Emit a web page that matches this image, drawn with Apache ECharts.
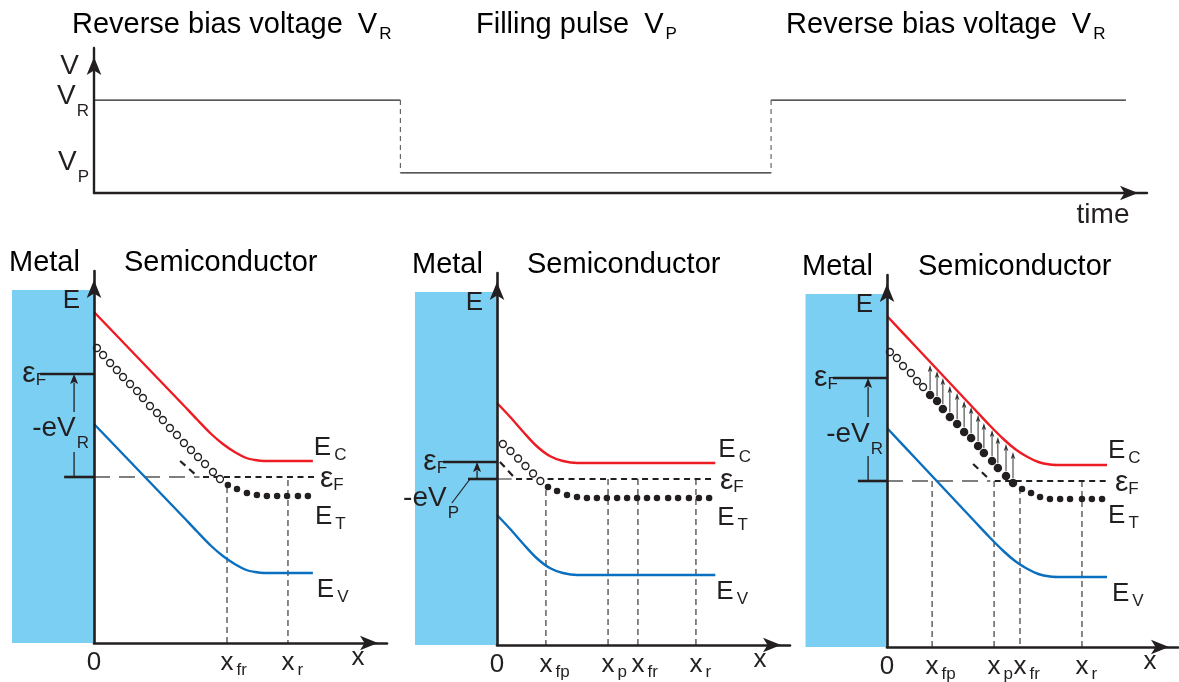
<!DOCTYPE html>
<html>
<head>
<meta charset="utf-8">
<title>Filling pulse sequence and Schottky band diagrams</title>
<script src="https://cdn.jsdelivr.net/npm/echarts@6.0.0/dist/echarts.min.js"></script>
<style>
  html, body { margin: 0; padding: 0; background: #ffffff; }
  #chart { width: 1179px; height: 682px; }
</style>
</head>
<body>
<div id="chart"></div>
<script>
// ---------------- bias sequence (time and voltage in arbitrary units) ----------------
const pulseTimes = [0, 2.91, 6.43, 9.80];   // start, pulse on, pulse off, end
const reverseBias = 3.0;                    // V_R
const fillBias = 0.65;                      // V_P

// ---------------- Schottky contact: position x (a.u.), energy vs. bulk Fermi level (eV) ----------------
const metalX = [-2.8, 0];
const metalE = [-1.66, 1.87];

// Panel 1: steady state under reverse bias
const bandX1 = [0, 1, 2, 3, 3.5, 4, 4.4, 4.8, 5.2, 5.5, 5.8, 7.47];
const ec1 = [1.65, 1.345, 1.04, 0.735, 0.58, 0.43, 0.33, 0.25, 0.19, 0.17, 0.16, 0.16];
const ev1 = [0.53, 0.225, -0.08, -0.385, -0.54, -0.69, -0.79, -0.87, -0.93, -0.95, -0.96, -0.96];
const emptyX1 = [0.10, 0.31, 0.55, 0.78, 0.99, 1.23, 1.47, 1.67, 1.91, 2.15, 2.35, 2.59, 2.83, 3.07, 3.31, 3.55, 3.79, 4.06, 4.30];
const emptyE1 = [1.29, 1.22, 1.14, 1.07, 1.00, 0.93, 0.86, 0.79, 0.71, 0.64, 0.57, 0.49, 0.42, 0.34, 0.27, 0.20, 0.13, 0.05, -0.02];
const filledX1 = [4.57, 4.88, 5.22, 5.56, 5.90, 6.25, 6.59, 6.96, 7.30];
const filledE1 = [-0.08, -0.12, -0.16, -0.18, -0.19, -0.19, -0.19, -0.19, -0.19];
const etTail1 = [2.94, 0.16, 3.48, 0.02];
const efGray1 = [0, 3.6];
const efBlack1 = [3.72, 7.54];
const guideX1 = [4.54, 6.62];
const guideTop1 = [-0.10, -0.03];
const tickVal1 = [0, 4.54, 6.62];
const tickLab1 = [['0', ''], ['x', 'fr'], ['x', 'r']];
const metalFermi1 = 1.03;
const metalFermiX1 = [-1.84, 0];
const bulkRefX1 = [-1.02, 0];
const biasArrow1 = [-0.68, 0.65, 1.03];
const biasTick1 = [-0.68, 0, 0.25];

// Panel 2: during the filling pulse
const bandX2 = [0, 0.45, 0.9, 1.35, 1.8, 2.25, 2.75, 3.3, 7.45];
const ec2 = [0.76, 0.62, 0.47, 0.33, 0.23, 0.18, 0.16, 0.16, 0.16];
const ev2 = [-0.36, -0.50, -0.65, -0.79, -0.89, -0.94, -0.96, -0.96, -0.96];
const emptyX2 = [0.20, 0.46, 0.72, 0.97, 1.23, 1.48];
const emptyE2 = [0.35, 0.28, 0.205, 0.13, 0.055, -0.02];
const filledX2 = [1.74, 2.05, 2.39, 2.73, 3.07, 3.41, 3.75, 4.10, 4.44, 4.78, 5.12, 5.46, 5.84, 6.18, 6.55, 6.89, 7.24];
const filledE2 = [-0.08, -0.12, -0.16, -0.18, -0.19, -0.19, -0.19, -0.19, -0.19, -0.19, -0.19, -0.19, -0.19, -0.19, -0.19, -0.19, -0.19];
const etTail2 = [0.10, 0.17, 0.61, 0.01];
const efGray2 = [0, 0.5];
const efBlack2 = [0.65, 7.44];
const guideX2 = [1.67, 3.79, 4.81, 6.79];
const guideTop2 = [-0.11, 0, 0, 0];
const tickVal2 = [0, 1.67, 3.79, 4.81, 6.79];
const tickLab2 = [['0', ''], ['x', 'fp'], ['x', 'p'], ['x', 'fr'], ['x', 'r']];
const metalFermi2 = 0.17;
const metalFermiX2 = [-1.84, 0];
const bulkRefX2 = [-0.99, 0];
const biasArrow2 = [-0.68, 0, 0.17];
const pointer2 = [-1.54, -0.24, -0.92, 0.0];

// Panel 3: back to reverse bias, filled traps emitting
const bandX3 = [0, 1, 2, 3, 3.5, 4, 4.4, 4.8, 5.2, 5.6, 6.0, 7.56];
const ec3 = [1.65, 1.34, 1.03, 0.72, 0.565, 0.42, 0.32, 0.245, 0.19, 0.165, 0.16, 0.16];
const ev3 = [0.53, 0.22, -0.09, -0.40, -0.555, -0.70, -0.80, -0.875, -0.93, -0.955, -0.96, -0.96];
const emptyX3 = [0.10, 0.34, 0.55, 0.82, 1.03, 1.24];
const emptyE3 = [1.29, 1.23, 1.15, 1.08, 1.00, 0.94];
const emitX3 = [1.48, 1.72, 1.92, 2.16, 2.41, 2.65, 2.89, 3.13, 3.33, 3.61, 3.81, 4.09, 4.33];
const emitE3 = [0.86, 0.80, 0.72, 0.64, 0.57, 0.49, 0.43, 0.35, 0.28, 0.20, 0.13, 0.05, -0.02];
const emitTop3 = [1.16, 1.10, 1.03, 0.95, 0.88, 0.80, 0.74, 0.66, 0.58, 0.51, 0.44, 0.37, 0.29];
const filledX3 = [4.64, 4.95, 5.26, 5.60, 5.95, 6.29, 6.70, 7.04, 7.39];
const filledE3 = [-0.08, -0.12, -0.16, -0.18, -0.18, -0.18, -0.18, -0.18, -0.18];
const etTail3 = [2.96, 0.17, 3.54, 0.01];
const efGray3 = [0, 3.55];
const efBlack3 = [3.70, 7.56];
const guideX3 = [1.55, 3.68, 4.57, 6.70];
const guideTop3 = [0, 0, -0.07, 0];
const tickVal3 = [0, 1.55, 3.68, 4.57, 6.70];
const tickLab3 = [['0', ''], ['x', 'fp'], ['x', 'p'], ['x', 'fr'], ['x', 'r']];
const metalFermi3 = 1.03;
const metalFermiX3 = [-1.86, 0];
const bulkRefX3 = [-1.0, 0];
const biasArrow3 = [-0.65, 0.64, 1.03];
const biasTick3 = [-0.65, 0, 0.25];

// ---------------- styling ----------------
const INK = '#231f20';
const RED = '#ed1c24';
const BLUE = '#0b6fbf';
const METAL = '#7bcff2';
const FONT = "'Liberation Sans', Arial, Helvetica, sans-serif";
const E_MIN = -1.66, E_MAX = 2.06;

const tok = (size, extra) => Object.assign({ fontFamily: FONT, fontSize: size, color: INK }, extra || {});
const RICH = {
  m: tok(26, { lineHeight: 34 }),
  s: tok(17, { lineHeight: 17, verticalAlign: 'top', padding: [16, 0, 0, 3] }),
  g: tok(17, { lineHeight: 17, verticalAlign: 'top', padding: [16, 3, 0, 0], color: 'rgba(0,0,0,0)' }),
  e: tok(30, { lineHeight: 34 }),
  f: tok(17, { lineHeight: 17, verticalAlign: 'top', padding: [15, 0, 0, 0] }),
  v: tok(28, { lineHeight: 34 }),
  w: tok(17, { lineHeight: 17, verticalAlign: 'top', padding: [24, 0, 0, 1] })
};
const TITLE_RICH = {
  t: tok(29, { lineHeight: 36 }),
  tv: tok(29, { lineHeight: 36, padding: [0, 0, 0, 15] }),
  ts: tok(17, { lineHeight: 17, verticalAlign: 'top', padding: [19, 0, 0, 2] })
};

const xy = (xs, ys) => xs.map((x, i) => [x, ys[i]]);
const EPS_F = '{e|ε}{f|F}';

// ---------------- drawing helpers ----------------
function axisArrow(width) {
  return {
    show: true, onZero: false,
    symbol: ['none', 'arrow'], symbolSize: [11, 18], symbolOffset: [0, -9],
    lineStyle: { color: INK, width: width }
  };
}

function segSeries(ax, segs, style, z) {
  return {
    type: 'custom', xAxisIndex: ax, yAxisIndex: ax, clip: false, silent: true, z: z || 3,
    data: segs,
    renderItem: function (params, api) {
      const a = api.coord([api.value(0), api.value(1)]);
      const b = api.coord([api.value(2), api.value(3)]);
      return {
        type: 'line',
        shape: { x1: a[0], y1: a[1], x2: b[0], y2: b[1] },
        style: Object.assign({ fill: null }, style)
      };
    }
  };
}

// vertical arrows: [x, from, to], tip exactly at "to"
function arrowSeries(ax, arrows, color, width, headW, headL) {
  return {
    type: 'custom', xAxisIndex: ax, yAxisIndex: ax, clip: false, silent: true, z: 4,
    data: arrows,
    renderItem: function (params, api) {
      const a = api.coord([api.value(0), api.value(1)]);
      const b = api.coord([api.value(0), api.value(2)]);
      const dir = b[1] < a[1] ? -1 : 1;
      const base = b[1] - dir * headL;
      return {
        type: 'group',
        children: [
          { type: 'line', shape: { x1: a[0], y1: a[1], x2: b[0], y2: base + dir }, style: { stroke: color, lineWidth: width } },
          { type: 'polygon', shape: { points: [[b[0], b[1]], [b[0] - headW / 2, base], [b[0], base + dir * headL * 0.2], [b[0] + headW / 2, base]] }, style: { fill: color } }
        ]
      };
    }
  };
}

function metalSeries(ax) {
  return {
    type: 'custom', xAxisIndex: ax, yAxisIndex: ax, clip: false, silent: true, z: 1,
    data: [[metalX[0], metalX[1], metalE[0], metalE[1]]],
    renderItem: function (params, api) {
      const tl = api.coord([api.value(0), api.value(3)]);
      const br = api.coord([api.value(1), api.value(2)]);
      return { type: 'rect', shape: { x: tl[0], y: tl[1], width: br[0] - tl[0], height: br[1] - tl[1] }, style: { fill: METAL } };
    }
  };
}

function labelSeries(ax, items) {
  return {
    type: 'scatter', xAxisIndex: ax, yAxisIndex: ax, clip: false, silent: true, z: 6,
    symbolSize: 0, itemStyle: { color: 'rgba(0,0,0,0)', opacity: 1 },
    label: { show: true, color: INK, opacity: 1, rich: RICH },
    data: items.map(it => ({
      value: it.at,
      label: { formatter: it.text, position: it.pos, distance: it.dist, offset: it.off || [0, 0] }
    }))
  };
}

function bandLine(ax, xs, ys, color, labelText, dist, offY) {
  return {
    type: 'line', xAxisIndex: ax, yAxisIndex: ax, z: 3,
    data: xy(xs, ys), smooth: 0.3, showSymbol: false,
    lineStyle: { color: color, width: 2.4 }, itemStyle: { color: color },
    endLabel: { show: true, formatter: labelText, rich: RICH, distance: dist, offset: [0, offY] }
  };
}

function bandXAxis(ax, vals, labs, nameGap) {
  return {
    gridIndex: ax, type: 'value', min: 0, max: 10, z: 5,
    axisLine: axisArrow(2.6), axisTick: { show: false }, splitLine: { show: false },
    axisLabel: {
      show: true, margin: 3, customValues: vals, rich: RICH,
      formatter: function (v) {
        let k = 0, best = Infinity;
        vals.forEach((t, i) => { if (Math.abs(t - v) < best) { best = Math.abs(t - v); k = i; } });
        const [main, sub] = labs[k];
        return sub ? '{g|' + sub + '}{m|' + main + '}{s|' + sub + '}' : '{m|' + main + '}';
      }
    },
    name: 'x', nameLocation: 'end', nameGap: nameGap,
    nameTextStyle: { fontFamily: FONT, fontSize: 26, color: INK, align: 'center', verticalAlign: 'top', padding: [2, 0, 0, 0] }
  };
}

function bandYAxis(ax) {
  return {
    gridIndex: ax, type: 'value', min: E_MIN, max: E_MAX, z: 5,
    axisLine: axisArrow(2.6), axisTick: { show: false }, axisLabel: { show: false }, splitLine: { show: false },
    name: 'E', nameLocation: 'end', nameGap: -17,
    nameTextStyle: { fontFamily: FONT, fontSize: 26, color: INK, align: 'right', verticalAlign: 'top', padding: [0, 14, 0, 0] }
  };
}

// common pieces of a band diagram
function bandPanel(p) {
  const ax = p.ax;
  const list = [metalSeries(ax)];
  // guides down to the position axis
  list.push(segSeries(ax, p.guideX.map((x, i) => [x, p.guideTop[i], x, E_MIN]), { stroke: '#3a3a3a', lineWidth: 1.2, lineDash: [6, 4] }, 2));
  // bulk Fermi level
  list.push(segSeries(ax, [[p.efGray[0], 0, p.efGray[1], 0]], { stroke: '#555', lineWidth: 1.3, lineDash: [16, 9] }, 2));
  list.push(segSeries(ax, [[p.efBlack[0], 0, p.efBlack[1], 0]], { stroke: INK, lineWidth: 1.9, lineDash: [6, 4.5] }, 2));
  // bands
  list.push(bandLine(ax, p.bandX, p.ec, RED, '{m|E}{s|C}', p.ecLab[0], p.ecLab[1]));
  list.push(bandLine(ax, p.bandX, p.ev, BLUE, '{m|E}{s|V}', p.evLab[0], p.evLab[1]));
  // trap level continuation below the Fermi level crossing
  list.push(segSeries(ax, [p.etTail], { stroke: INK, lineWidth: 2.2, lineDash: [7, 5] }, 3));
  // empty traps
  list.push({
    type: 'scatter', xAxisIndex: ax, yAxisIndex: ax, z: 4, silent: true,
    data: xy(p.emptyX, p.emptyE), symbol: 'circle', symbolSize: 7,
    itemStyle: { color: '#ffffff', borderColor: INK, borderWidth: 1.3, opacity: 1 }
  });
  // filled traps in the neutral region (carries the E_T label)
  list.push({
    type: 'line', xAxisIndex: ax, yAxisIndex: ax, z: 4, silent: true,
    data: xy(p.filledX, p.filledE), showSymbol: true, symbol: 'circle', symbolSize: p.dot,
    lineStyle: { opacity: 0 }, itemStyle: { color: INK, borderWidth: 0 },
    endLabel: { show: true, formatter: '{m|E}{s|T}', rich: RICH, distance: p.etLab[0], offset: [0, p.etLab[1]] }
  });
  // metal Fermi level and bulk reference mark
  list.push(segSeries(ax, [[p.metalFermiX[0], p.metalFermi, p.metalFermiX[1], p.metalFermi]], { stroke: INK, lineWidth: 2.6 }, 3));
  list.push(segSeries(ax, [[p.bulkRefX[0], 0, p.bulkRefX[1], 0]], { stroke: INK, lineWidth: 2.6 }, 3));
  return list;
}

const panelDefs = [
  {
    ax: 1, bandX: bandX1, ec: ec1, ev: ev1, emptyX: emptyX1, emptyE: emptyE1, filledX: filledX1, filledE: filledE1, dot: 6.5,
    etTail: etTail1, efGray: efGray1, efBlack: efBlack1, guideX: guideX1, guideTop: guideTop1,
    metalFermi: metalFermi1, metalFermiX: metalFermiX1, bulkRefX: bulkRefX1,
    ecLab: [1, -13], evLab: [4, 17], etLab: [7, 21]
  },
  {
    ax: 2, bandX: bandX2, ec: ec2, ev: ev2, emptyX: emptyX2, emptyE: emptyE2, filledX: filledX2, filledE: filledE2, dot: 6.5,
    etTail: etTail2, efGray: efGray2, efBlack: efBlack2, guideX: guideX2, guideTop: guideTop2,
    metalFermi: metalFermi2, metalFermiX: metalFermiX2, bulkRefX: bulkRefX2,
    ecLab: [3, -13], evLab: [1, 17], etLab: [8, 20]
  },
  {
    ax: 3, bandX: bandX3, ec: ec3, ev: ev3, emptyX: emptyX3, emptyE: emptyE3, filledX: filledX3, filledE: filledE3, dot: 6.5,
    etTail: etTail3, efGray: efGray3, efBlack: efBlack3, guideX: guideX3, guideTop: guideTop3,
    metalFermi: metalFermi3, metalFermiX: metalFermiX3, bulkRefX: bulkRefX3,
    ecLab: [1, -14], evLab: [5, 17], etLab: [6, 17]
  }
];

const series = [];

// bias sequence
const [t0, t1, t2, t3] = pulseTimes;
series.push(segSeries(0, [
  [t0, reverseBias, t1, reverseBias],
  [t1, fillBias, t2, fillBias],
  [t2, reverseBias, t3, reverseBias]
], { stroke: INK, lineWidth: 1.3 }));
series.push(segSeries(0, [
  [t1, reverseBias, t1, fillBias],
  [t2, reverseBias, t2, fillBias]
], { stroke: '#666', lineWidth: 1.2, lineDash: [5, 4] }));
series.push(labelSeries(0, [
  { at: [0, reverseBias], text: '{v|V}{w|R}', pos: 'left', dist: 5, off: [0, -4] },
  { at: [0, fillBias], text: '{v|V}{w|P}', pos: 'left', dist: 5, off: [0, -11] }
]));

// band diagrams
panelDefs.forEach(p => series.push(...bandPanel(p)));

// panel-specific annotations
series.push(arrowSeries(1, [biasArrow1], INK, 1.3, 8, 10));
series.push(segSeries(1, [[biasTick1[0], biasTick1[1], biasTick1[0], biasTick1[2]]], { stroke: INK, lineWidth: 1.3 }));
series.push(labelSeries(1, [
  { at: [metalFermiX1[0], metalFermi1], text: EPS_F, pos: 'left', dist: -6 },
  { at: [efBlack1[1], 0], text: EPS_F, pos: 'right', dist: 5, off: [0, 2] },
  { at: [0, 0.49], text: '{v|-eV}{w|R}', pos: 'left', dist: 5 }
]));

series.push(arrowSeries(2, [biasArrow2], INK, 1.3, 8, 10));
series.push(segSeries(2, [pointer2], { stroke: INK, lineWidth: 1.2 }));
series.push(labelSeries(2, [
  { at: [metalFermiX2[0], metalFermi2], text: EPS_F, pos: 'left', dist: -4 },
  { at: [efBlack2[1], 0], text: EPS_F, pos: 'right', dist: 5, off: [0, 2] },
  { at: [0, -0.19], text: '{v|-eV}{w|P}', pos: 'left', dist: 38 }
]));

series.push({
  type: 'scatter', xAxisIndex: 3, yAxisIndex: 3, z: 4, silent: true,
  data: xy(emitX3, emitE3), symbol: 'circle', symbolSize: 8.5, itemStyle: { color: INK, opacity: 1 }
});
series.push(arrowSeries(3, emitX3.map((x, i) => [x, emitE3[i] + 0.05, emitTop3[i]]), '#333', 1, 4.5, 7));
series.push(arrowSeries(3, [biasArrow3], INK, 1.3, 8, 10));
series.push(segSeries(3, [[biasTick3[0], biasTick3[1], biasTick3[0], biasTick3[2]]], { stroke: INK, lineWidth: 1.3 }));
series.push(labelSeries(3, [
  { at: [metalFermiX3[0], metalFermi3], text: EPS_F, pos: 'left', dist: -5 },
  { at: [efBlack3[1], 0], text: EPS_F, pos: 'right', dist: 8, off: [0, 2] },
  { at: [0, 0.47], text: '{v|-eV}{w|R}', pos: 'left', dist: 4 }
]));

const gridBase = { containLabel: false, outerBoundsMode: 'none', show: false };

const option = {
  animation: false,
  backgroundColor: '#ffffff',
  textStyle: { fontFamily: FONT },
  grid: [
    Object.assign({ left: 94, top: 48, width: 1053, height: 145 }, gridBase),
    Object.assign({ left: 94, top: 271, width: 293, height: 372 }, gridBase),
    Object.assign({ left: 497, top: 273, width: 293, height: 372 }, gridBase),
    Object.assign({ left: 887, top: 275, width: 291, height: 372 }, gridBase)
  ],
  xAxis: [
    {
      gridIndex: 0, type: 'value', min: 0, max: 10, z: 5,
      axisLine: axisArrow(2.4), axisTick: { show: false }, axisLabel: { show: false }, splitLine: { show: false },
      name: 'time', nameLocation: 'end', nameGap: -44,
      nameTextStyle: { fontFamily: FONT, fontSize: 28, color: INK, align: 'center', verticalAlign: 'top', padding: [8, 0, 0, 0] }
    },
    bandXAxis(1, tickVal1, tickLab1, -29),
    bandXAxis(2, tickVal2, tickLab2, -30),
    bandXAxis(3, tickVal3, tickLab3, -28)
  ],
  yAxis: [
    {
      gridIndex: 0, type: 'value', min: 0, max: 4.68, z: 5,
      axisLine: axisArrow(2.4), axisTick: { show: false }, axisLabel: { show: false }, splitLine: { show: false },
      name: 'V', nameLocation: 'end', nameGap: -4,
      nameTextStyle: { fontFamily: FONT, fontSize: 28, color: INK, align: 'right', verticalAlign: 'top', padding: [0, 15, 0, 0] }
    },
    bandYAxis(1), bandYAxis(2), bandYAxis(3)
  ],
  graphic: [
    { type: 'text', left: 72, top: 7, silent: true, style: { text: '{t|Reverse bias voltage}{tv|V}{ts|R}', rich: TITLE_RICH } },
    { type: 'text', left: 476, top: 7, silent: true, style: { text: '{t|Filling pulse}{tv|V}{ts|P}', rich: TITLE_RICH } },
    { type: 'text', left: 786, top: 7, silent: true, style: { text: '{t|Reverse bias voltage}{tv|V}{ts|R}', rich: TITLE_RICH } },
    { type: 'text', left: 9, top: 248, silent: true, style: { text: '{t|Metal}', rich: TITLE_RICH } },
    { type: 'text', left: 124, top: 248, silent: true, style: { text: '{t|Semiconductor}', rich: TITLE_RICH } },
    { type: 'text', left: 412, top: 250, silent: true, style: { text: '{t|Metal}', rich: TITLE_RICH } },
    { type: 'text', left: 527, top: 250, silent: true, style: { text: '{t|Semiconductor}', rich: TITLE_RICH } },
    { type: 'text', left: 802, top: 252, silent: true, style: { text: '{t|Metal}', rich: TITLE_RICH } },
    { type: 'text', left: 918, top: 252, silent: true, style: { text: '{t|Semiconductor}', rich: TITLE_RICH } }
  ],
  series: series
};

const chart = echarts.init(document.getElementById('chart'), null, { renderer: 'canvas' });
chart.setOption(option);
</script>
</body>
</html>
